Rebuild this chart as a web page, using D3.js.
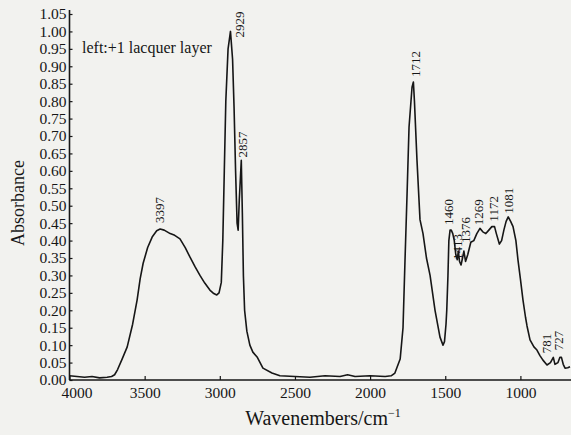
<!DOCTYPE html>
<html><head><meta charset="utf-8">
<script src="https://cdn.jsdelivr.net/npm/d3@7"></script>
<style>html,body{margin:0;padding:0;background:#f2f2ef;}svg{display:block;}</style>
</head><body>
<svg id="chart" width="571" height="435"></svg>
<script>
// Spectrum: wavenumber (cm^-1) and absorbance
const wavenumbers = [4000,3950,3900,3850,3800,3750,3720,3700,3680,3650,3616,3580,3550,3530,3510,3480,3450,3420,3397,3370,3330,3300,3265,3230,3199,3165,3132,3100,3066,3040,3020,3005,2990,2980,2970,2960,2945,2929,2915,2905,2895,2885,2878,2870,2857,2850,2843,2835,2820,2800,2780,2752,2713,2653,2600,2500,2400,2300,2200,2150,2100,2000,1900,1860,1835,1800,1781,1768,1754,1741,1721,1712,1705,1688,1668,1648,1625,1601,1568,1535,1515,1505,1495,1490,1482,1476,1468,1460,1450,1440,1430,1420,1413,1405,1395,1385,1376,1365,1350,1330,1310,1290,1269,1250,1230,1210,1190,1172,1160,1140,1125,1110,1095,1081,1065,1049,1030,1016,1000,983,966,956,936,910,890,870,850,823,800,781,770,750,737,727,715,703,685,670];
const absorbance  = [0.012,0.010,0.008,0.010,0.006,0.008,0.010,0.015,0.030,0.060,0.095,0.160,0.230,0.290,0.335,0.380,0.410,0.428,0.433,0.430,0.420,0.415,0.405,0.380,0.353,0.325,0.300,0.278,0.258,0.248,0.244,0.250,0.280,0.400,0.600,0.800,0.950,1.000,0.920,0.780,0.600,0.450,0.430,0.520,0.630,0.480,0.300,0.200,0.140,0.100,0.080,0.066,0.034,0.020,0.012,0.010,0.008,0.012,0.010,0.015,0.010,0.012,0.010,0.012,0.020,0.060,0.150,0.340,0.535,0.725,0.840,0.855,0.800,0.630,0.460,0.420,0.350,0.300,0.200,0.123,0.100,0.110,0.160,0.200,0.300,0.400,0.430,0.430,0.420,0.400,0.360,0.345,0.370,0.340,0.330,0.350,0.370,0.340,0.360,0.395,0.400,0.420,0.435,0.425,0.420,0.430,0.440,0.440,0.420,0.390,0.400,0.430,0.455,0.468,0.455,0.440,0.400,0.344,0.290,0.230,0.180,0.155,0.115,0.095,0.086,0.070,0.057,0.043,0.050,0.065,0.045,0.050,0.065,0.065,0.045,0.034,0.035,0.038];

const peakLabels = ["3397","2929","2857","1712","1460","1413","1376","1269","1172","1081","781","727"];
const peakWave   = [3397,2929,2857,1712,1460,1413,1376,1269,1172,1081,781,727];
const peakAbs    = [0.433,1.000,0.630,0.855,0.430,0.370,0.370,0.435,0.440,0.468,0.065,0.065];

const xTicks = [4000,3500,3000,2500,2000,1500,1000];
const yTicks = d3.range(0, 22).map(i => +(i*0.05).toFixed(2));

(function () {
const svg = d3.select("#chart");
const W = 571, H = 435;
const mLeft = 69.5, mBottom = 380, mTop = 14;

svg.append("rect").attr("width", W).attr("height", H).attr("fill", "#f2f2ef");

const x = d3.scaleLinear().domain([4000, 670]).range([mLeft, 570]);
const y = d3.scaleLinear().domain([0, 1.05]).range([mBottom, mTop]);

const serif = "'Liberation Serif', 'DejaVu Serif', serif";
const ink = "#161616";

// y axis
const yAx = svg.append("g").attr("transform", `translate(${mLeft},0)`)
  .call(d3.axisLeft(y).tickValues(yTicks).tickFormat(d3.format(".2f")).tickSize(-3).tickPadding(3));
yAx.select(".domain").attr("d", `M0,${mTop-4}V${mBottom}`);
yAx.selectAll("text").attr("font-family", serif).attr("font-size", 15.5).attr("fill", ink);

// x axis
const xAx = svg.append("g").attr("transform", `translate(0,${mBottom})`)
  .call(d3.axisBottom(x).tickValues(xTicks).tickFormat(d3.format("d")).tickSize(-4).tickPadding(7));
xAx.select(".domain").attr("d", `M${mLeft},0H571`);
xAx.selectAll("text").attr("font-family", serif).attr("font-size", 15.5).attr("fill", ink)
  .attr("dx", d => d === 4000 ? 7 : 0);

svg.selectAll(".domain").attr("stroke", ink).attr("stroke-width", 1.6);
svg.selectAll(".tick line").attr("stroke", ink).attr("stroke-width", 1.2);

// spectrum
const pts = wavenumbers.map((w, i) => [w, absorbance[i]]);
const line = d3.line().x(d => x(d[0])).y(d => y(d[1]));
svg.append("path").datum(pts)
  .attr("d", line)
  .attr("fill", "none").attr("stroke", ink).attr("stroke-width", 1.6)
  .attr("stroke-linejoin", "round");

// peak labels (rotated); per-label nudges so they sit as in the figure
const nudge = {
  "3397": [4, -6], "2929": [14, 6], "2857": [6, -3], "1712": [7, -5],
  "1460": [2, -5], "1413": [4, 9], "1376": [6.5, -8], "1269": [3, -3],
  "1172": [3.5, -5], "1081": [4.5, -3], "781": [-2, -4], "727": [1.5, -7]
};
const lab = svg.append("g").attr("font-family", serif).attr("font-size", 13).attr("fill", ink);
peakLabels.forEach((t, i) => {
  const px = x(peakWave[i]), py = y(peakAbs[i]);
  const [dx, dy] = nudge[t];
  lab.append("text")
    .attr("transform", `translate(${px + dx},${py + dy}) rotate(-90)`)
    .text(t);
});

// annotation
svg.append("text").attr("x", 82).attr("y", 53)
  .attr("font-family", serif).attr("font-size", 16).attr("fill", ink)
  .text("left:+1 lacquer layer");

// axis titles
svg.append("text").attr("transform", "translate(24,203) rotate(-90)")
  .attr("text-anchor", "middle").attr("font-family", serif).attr("font-size", 18).attr("fill", ink)
  .text("Absorbance");
const xt = svg.append("text").attr("x", 323).attr("y", 425)
  .attr("text-anchor", "middle").attr("font-family", serif).attr("font-size", 20).attr("fill", ink);
xt.append("tspan").text("Wavenembers/cm");
xt.append("tspan").attr("dy", -8).attr("font-size", 12).text("−1");
})();
</script>
</body></html>
